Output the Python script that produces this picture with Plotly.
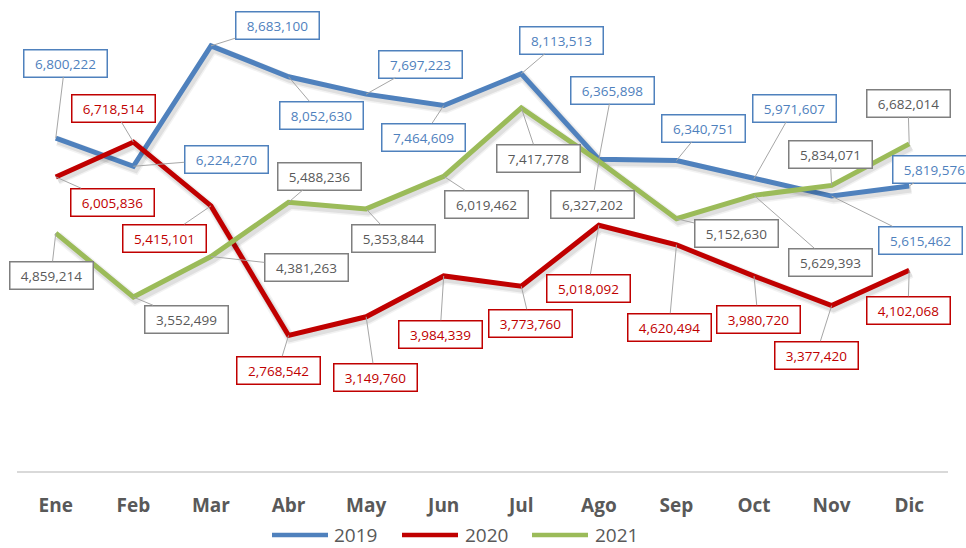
import plotly.graph_objects as go

months = ["Ene", "Feb", "Mar", "Abr", "May", "Jun", "Jul", "Ago", "Sep", "Oct", "Nov", "Dic"]
series_names = ["2019", "2020", "2021"]
v2019 = [6800222, 6224270, 8683100, 8052630, 7697223, 7464609, 8113513, 6365898, 6340751, 5971607, 5615462, 5819576]
v2020 = [6005836, 6718514, 5415101, 2768542, 3149760, 3984339, 3773760, 5018092, 4620494, 3980720, 3377420, 4102068]
v2021 = [4859214, 3552499, 4381263, 5488236, 5353844, 6019462, 7417778, 6327202, 5152630, 5629393, 5834071, 6682014]

# label box centres (pixel positions on the page) - styling only
lbl2019 = [(65, 63), (226, 159), (277, 25), (321, 115), (420, 64), (423, 137), (561, 40), (612, 90), (703, 128), (794, 108), (920, 240), (934, 169)]
lbl2020 = [(112, 202), (113, 108), (164, 238), (278, 370), (375, 377), (440, 334), (530, 323), (588, 288), (669, 327), (758, 319), (816, 355), (908, 310)]
lbl2021 = [(51, 275), (186, 319), (306, 267), (319, 176), (393, 238), (486, 204), (538, 158), (592, 204), (736, 233), (830, 262), (830, 154), (908, 103)]
# legend entry positions (line start, line end, text start) in page pixels
legend_pos = [(272, 328, 332), (402, 458, 463), (532, 588, 593)]
LEGEND_Y = 535

W, H = 966, 548
L, R, T, B = 17, 18, 0, 77
N = len(months)
UNITS_PER_PX = 20425
YMAX = (H - B - T) * UNITS_PER_PX
PW, PH = W - L - R, H - B - T

def px2x(px):
    return (px - L) / PW * N - 0.5

def py2y(py):
    return (H - B - py) / PH * YMAX

def px2paper(px):
    return (px - L) / PW

def py2paper(py):
    return (H - B - py) / PH

line_colors = ["#4F81BD", "#C00000", "#9BBB59"]
box_colors = ["#4F81BD", "#C00000", "#7F7F7F"]
text_colors = ["#4F81BD", "#C00000", "#595959"]
values = [v2019, v2020, v2021]
labels = [lbl2019, lbl2020, lbl2021]

xs = list(range(N))
dx = 2 / (PW / N)
dy = 3 * UNITS_PER_PX

fig = go.Figure()
for name, vals, col in zip(series_names, values, line_colors):
    for w, op in [(10, 0.05), (7, 0.08)]:
        fig.add_trace(go.Scatter(
            x=[x + dx for x in xs], y=[v - dy for v in vals], mode="lines",
            line=dict(color=f"rgba(0,0,0,{op})", width=w),
            showlegend=False, hoverinfo="skip"))
    fig.add_trace(go.Scatter(
        x=xs, y=vals, mode="lines", name=name, showlegend=False,
        line=dict(color=col, width=5)))

annotations = []
for vals, lbls, bc, tc in zip(values, labels, box_colors, text_colors):
    for i, (v, (cx, cy)) in enumerate(zip(vals, lbls)):
        annotations.append(dict(
            x=i, y=v, xref="x", yref="y",
            ax=px2x(cx), ay=py2y(cy), axref="x", ayref="y",
            text=f"{v:,}", showarrow=True, arrowhead=0, arrowwidth=1,
            arrowcolor="#A6A6A6", standoff=0,
            font=dict(family="Open Sans", size=13.5, color=tc),
            bgcolor="white", bordercolor=bc, borderwidth=1.5, borderpad=2,
            width=78, height=22))

shapes = []
for name, col, (x0, x1, xt) in zip(series_names, line_colors, legend_pos):
    shapes.append(dict(type="line", xref="paper", yref="paper",
                       x0=px2paper(x0), x1=px2paper(x1),
                       y0=py2paper(LEGEND_Y), y1=py2paper(LEGEND_Y),
                       line=dict(color=col, width=4.5)))
    annotations.append(dict(x=px2paper(xt), y=py2paper(LEGEND_Y), xref="paper", yref="paper",
                            xanchor="left", yanchor="middle", showarrow=False, text=name,
                            font=dict(family="Open Sans", size=19, color="#595959")))

fig.update_layout(
    width=W, height=H,
    margin=dict(l=L, r=R, t=T, b=B, autoexpand=False),
    plot_bgcolor="white", paper_bgcolor="white",
    annotations=annotations, shapes=shapes,
    xaxis=dict(range=[-0.5, N - 0.5], tickvals=xs, ticktext=months,
               showline=True, linecolor="#D9D9D9", linewidth=1.5,
               showgrid=False, zeroline=False, ticks="",
               ticklabelstandoff=16, automargin=False,
               tickfont=dict(family="Open Sans", size=19, color="#595959", weight="bold")),
    yaxis=dict(range=[0, YMAX], visible=False, showgrid=False, zeroline=False),
    showlegend=False,
)

fig.write_html("out.html", config={"displayModeBar": False},
               post_script="document.body.style.margin='0';document.body.style.overflow='hidden';")
